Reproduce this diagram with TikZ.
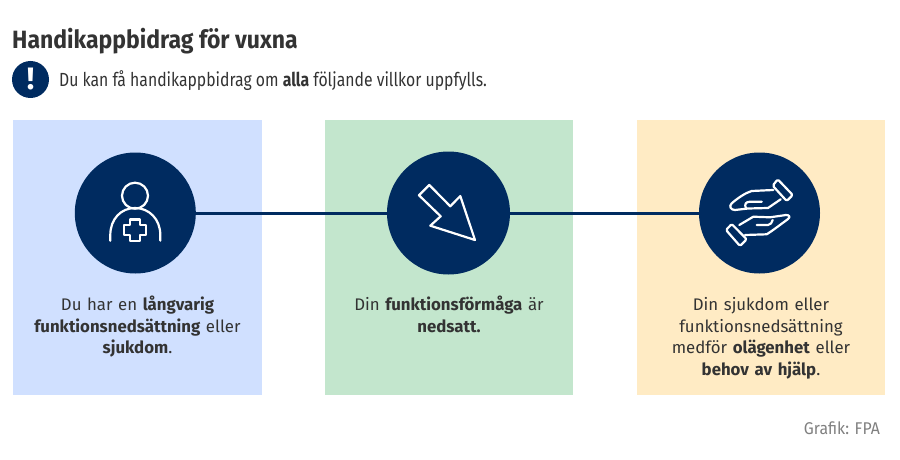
\documentclass[tikz,border=0pt]{standalone}
\usepackage{fontspec}
\setmainfont{Fira Sans}
\newfontfamily\leadfont[FakeStretch=0.83]{Fira Sans}
\newfontfamily\titlefont[FakeStretch=0.92]{Fira Sans}
\usetikzlibrary{positioning}
\definecolor{navy}{HTML}{002B60}
\definecolor{inktext}{HTML}{333333}
\definecolor{boxblue}{HTML}{D0E0FF}
\definecolor{boxgreen}{HTML}{C3E6CD}
\definecolor{boxyellow}{HTML}{FFEBC4}
\tikzset{
  panel/.style={minimum width=248.5pt,minimum height=275pt,inner sep=0pt},
  disc/.style={circle,fill=navy,minimum size=121pt,inner sep=0pt},
  caption/.style={align=center,text=inktext,font=\fontsize{16.8}{21.8}\selectfont,text width=240pt,inner sep=0pt},
  icon/.style={white,line width=2.2pt,line join=round,line cap=round},
  cuff/.style={icon,rounded corners=1.5pt}
}
\begin{document}
\begin{tikzpicture}[x=1pt,y=-1pt]
  \useasboundingbox (0,0) rectangle (900,460);
  \node[anchor=west,text=inktext,inner sep=0pt,font=\titlefont\fontsize{25}{28}\selectfont\bfseries] (title) at (12,41.5) {Handikappbidrag för vuxna};
  \node[circle,fill=navy,minimum size=37pt,inner sep=0pt] (alert) at (30.5,79.5) {};
  \node[text=white,inner sep=0pt,font=\fontsize{31}{31}\selectfont\bfseries] at (alert) {!};
  \node[anchor=west,text=inktext,inner sep=0pt,font=\leadfont\fontsize{19}{22}\selectfont] (lead) at (59,81) {Du kan få handikappbidrag om \textbf{alla} följande villkor uppfylls.};
  % panels
  \node[panel,fill=boxblue] (p1) at (137.5,257.5) {};
  \node[panel,fill=boxgreen] (p2) at (449,257.5) {};
  \node[panel,fill=boxyellow] (p3) at (761,257.5) {};
  % discs
  \node[disc] (d1) at (135.3,213) {};
  \node[disc,minimum size=123pt] (d2) at (448.5,213) {};
  \node[disc] (d3) at (759.5,213) {};
  \draw[navy,line width=3pt] (d1)--(d2);
  \draw[navy,line width=3pt] (d2)--(d3);
  % person
  \draw[icon] (135,195.7) circle (13);
  \draw[icon] (110.3,240.7) -- (110.3,235) .. controls (110.3,219) and (121,208) .. (135,208) .. controls (149,208) and (160.3,219) .. (160.3,235) -- (160.3,240.7);
  \draw[icon] (130,219.5)--(140,219.5)--(140,225)--(146,225)--(146,235)--(140,235)--(140,240.7)--(130,240.7)--(130,235)--(124,235)--(124,225)--(130,225)--cycle;
  % arrow
  \draw[icon] (429.3,185)--(419,195.3)--(440.7,216.3)--(430.3,225.7)--(475,240)--(460.3,196)--(450.3,206.3)--cycle;
  % hands
  \draw[cuff] (777.7,179.3)--(792.7,195)--(786.7,201)--(772.7,185.7)--cycle;
  \draw[icon] (773.3,190)--(751.7,191) .. controls (745,193) and (738,198) .. (731.7,203.3) .. controls (728.5,206.5) and (731,210) .. (735,210)--(748,208.5)--(768,208)--(780.7,199.3);
  \draw[icon] (746,208.5) .. controls (744,204) and (746,201.7) .. (750,201.7)--(761.7,201.7);
  \draw[cuff] (731.7,224)--(726,230)--(740,246)--(746.7,239.3)--cycle;
  \draw[icon] (739.3,225)--(753.3,216.7)--(770,217.3)--(786,215) .. controls (789.5,215) and (790.5,217) .. (788,219) .. controls (780,225) and (772,231) .. (766.7,234.3)--(745,235);
  \draw[icon] (756.7,225)--(768,225) .. controls (770.5,225) and (772,222.5) .. (772.7,220);
  % captions
  \node[caption,anchor=north] (c1) at (137.5,295.5) {Du har en \textbf{långvarig}\\\textbf{funktionsnedsättning} eller\\\textbf{sjukdom}.};
  \node[caption,anchor=north] (c2) at (449,295.5) {Din \textbf{funktionsförmåga} är\\\textbf{nedsatt.}};
  \node[caption,anchor=north] (c3) at (761,297) {Din sjukdom eller\\funktionsnedsättning\\medför \textbf{olägenhet} eller\\\textbf{behov av hjälp}.};
  \node[anchor=east,text=gray,inner sep=0pt,font=\fontsize{17}{20}\selectfont\addfontfeature{FakeStretch=0.93}] (src) at (880,428) {Grafik: FPA};
\end{tikzpicture}
\end{document}
